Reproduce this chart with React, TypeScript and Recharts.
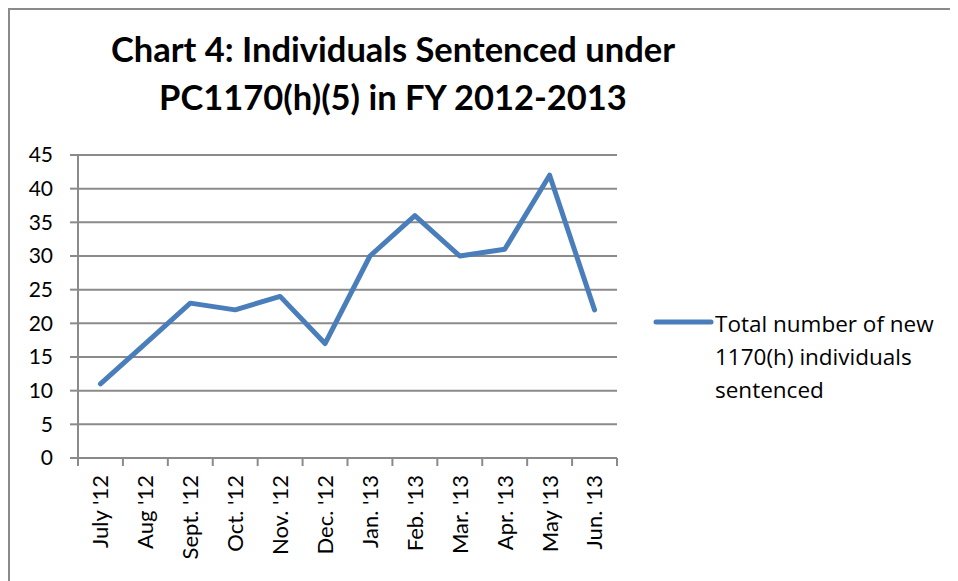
import React from 'react';
import { LineChart, Line, XAxis, YAxis, CartesianGrid } from 'recharts';

const MONTHS = ["July '12", "Aug '12", "Sept. '12", "Oct. '12", "Nov. '12", "Dec. '12", "Jan. '13", "Feb. '13", "Mar. '13", "Apr. '13", "May '13", "Jun. '13"];
const SENTENCED = [11, 17, 23, 22, 24, 17, 30, 36, 30, 31, 42, 22];
const Y_TICKS = [0, 5, 10, 15, 20, 25, 30, 35, 40, 45];
const BOUNDARY_TICKS = [0, 1, 2, 3, 4, 5, 6, 7, 8, 9, 10, 11, 12];

// pos = middle of each month's slot, used only by the tick-mark axis
const data = MONTHS.map((month, i) => ({ month, pos: i + 0.5, total: SENTENCED[i] }));

const FONT = 'Lato, "Open Sans", sans-serif';
const GRAY = '#8a8a8a';
const BLUE = '#4a7ebb';

const MonthTick = (props: any) => {
  const { x, y, payload } = props;
  return (
    <g transform={`translate(${x},${y + 9})`}>
      <text transform="rotate(-90)" textAnchor="end" dy="0.36em" fontFamily={FONT} fontSize={22} fill="#000">
        {payload.value}
      </text>
    </g>
  );
};

export default function App() {
  return (
    <div
      style={{
        position: 'relative',
        width: 950,
        height: 580,
        borderTop: `2px solid ${GRAY}`,
        borderLeft: `2px solid ${GRAY}`,
        background: '#fff',
        overflow: 'hidden',
      }}
    >
      <div
        style={{
          position: 'absolute',
          left: 83,
          top: 15,
          width: 600,
          textAlign: 'center',
          fontFamily: FONT,
          fontWeight: 700,
          fontSize: 34.5,
          lineHeight: '48px',
          color: '#000',
        }}
      >
        Chart 4: Individuals Sentenced under
        <br />
        PC1170(h)(5) in FY 2012-2013
      </div>

      <LineChart width={948} height={571} data={data} margin={{ top: 145, right: 341, bottom: 5, left: 8 }}>
        <CartesianGrid xAxisId="a_frame" vertical={false} stroke={GRAY} strokeWidth={2} />
        <XAxis
          xAxisId="a_frame"
          dataKey="pos"
          type="number"
          domain={[0, 12]}
          ticks={BOUNDARY_TICKS}
          interval={0}
          allowDataOverflow
          tickFormatter={() => ''}
          tickSize={8}
          height={8}
          axisLine={{ stroke: GRAY, strokeWidth: 2 }}
          tickLine={{ stroke: GRAY, strokeWidth: 2 }}
        />
        <XAxis
          xAxisId="b_month"
          dataKey="month"
          scale="band"
          interval={0}
          axisLine={false}
          tickLine={false}
          tickSize={0}
          tickMargin={0}
          height={110}
          tick={<MonthTick />}
        />
        <YAxis
          domain={[0, 45]}
          ticks={Y_TICKS}
          interval={0}
          width={60}
          tickSize={8}
          tickMargin={17}
          axisLine={{ stroke: GRAY, strokeWidth: 2 }}
          tickLine={{ stroke: GRAY, strokeWidth: 2 }}
          tick={{ fontFamily: FONT, fontSize: 21, fill: '#000' }}
        />
        <Line
          xAxisId="b_month"
          type="linear"
          dataKey="total"
          stroke={BLUE}
          strokeWidth={5}
          strokeLinecap="round"
          strokeLinejoin="round"
          dot={false}
          activeDot={false}
          isAnimationActive={false}
        />
      </LineChart>

      <div
        style={{
          position: 'absolute',
          left: 643,
          top: 297,
          display: 'flex',
          alignItems: 'flex-start',
          fontFamily: '"Open Sans", sans-serif',
          fontSize: 22.5,
          lineHeight: '33px',
          color: '#000',
        }}
      >
        <svg width={61} height={33} style={{ flex: 'none' }}>
          <line x1={3} y1={15} x2={58} y2={15} stroke={BLUE} strokeWidth={5} strokeLinecap="round" />
        </svg>
        <div style={{ width: 260, marginLeft: 1 }}>
          Total number of new
          <br />
          1170(h) individuals
          <br />
          sentenced
        </div>
      </div>
    </div>
  );
}
